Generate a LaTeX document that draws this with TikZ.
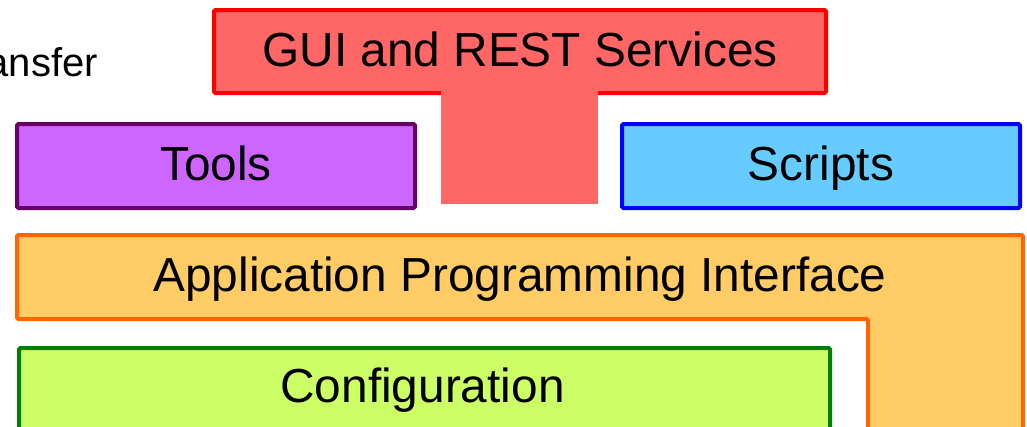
\documentclass[tikz,border=0pt]{standalone}
\usepackage{fontspec}
\setmainfont{Liberation Sans}
\definecolor{guiline}{HTML}{FF0000}
\definecolor{guifill}{HTML}{FF6666}
\definecolor{toolline}{HTML}{660066}
\definecolor{toolfill}{HTML}{CC66FF}
\definecolor{scrline}{HTML}{0000FF}
\definecolor{scrfill}{HTML}{66CCFF}
\definecolor{apiline}{HTML}{FF6600}
\definecolor{apifill}{HTML}{FFCC66}
\definecolor{cfgline}{HTML}{008000}
\definecolor{cfgfill}{HTML}{CCFF66}
\begin{document}
\begin{tikzpicture}[x=1pt,y=1pt,
  layerbox/.style={draw, line width=4pt, rounded corners=1.5pt, inner sep=0pt},
  lbl/.style={font=\fontsize{47.8}{57}\selectfont, anchor=base, inner sep=0pt}]
\clip (0,0) rectangle (1027,-426);
% cut-off text at the left
\node[font=\fontsize{40}{48}\selectfont, anchor=base east, inner sep=0pt] (xfer) at (98,-76) {ansfer};
% GUI and REST Services (T shape)
\node[layerbox, draw=guiline, fill=guifill, minimum width=612pt, minimum height=83pt] (gui) at (520,-51.5) {};
\node[fill=guifill, inner sep=0pt, minimum width=157pt, minimum height=113pt, anchor=north] (guistem) at (519.5,-91) {};
\node[lbl] (guit) at (520,-66.5) {GUI and REST Services};
% Tools
\node[layerbox, draw=toolline, fill=toolfill, minimum width=398pt, minimum height=84pt] (tools) at (216,-166) {};
\node[lbl] (toolst) at (216,-180) {Tools};
% Scripts
\node[layerbox, draw=scrline, fill=scrfill, minimum width=398pt, minimum height=84pt] (scripts) at (821,-166) {};
\node[lbl] (scriptst) at (821,-180) {Scripts};
% Application Programming Interface (L shape)
\draw[line width=4pt, rounded corners=1.5pt, draw=apiline, fill=apifill]
  (17,-235) -- (1023,-235) -- (1023,-450) -- (868,-450) -- (868,-319) -- (17,-319) -- cycle;
\node[lbl] (apit) at (520,-291) {Application Programming Interface};
% Configuration
\node[layerbox, draw=cfgline, fill=cfgfill, minimum width=811pt, minimum height=120pt, anchor=north west] (cfg) at (17,-346) {};
\node[lbl] (cfgt) at (422.5,-402) {Configuration};
\end{tikzpicture}
\end{document}
